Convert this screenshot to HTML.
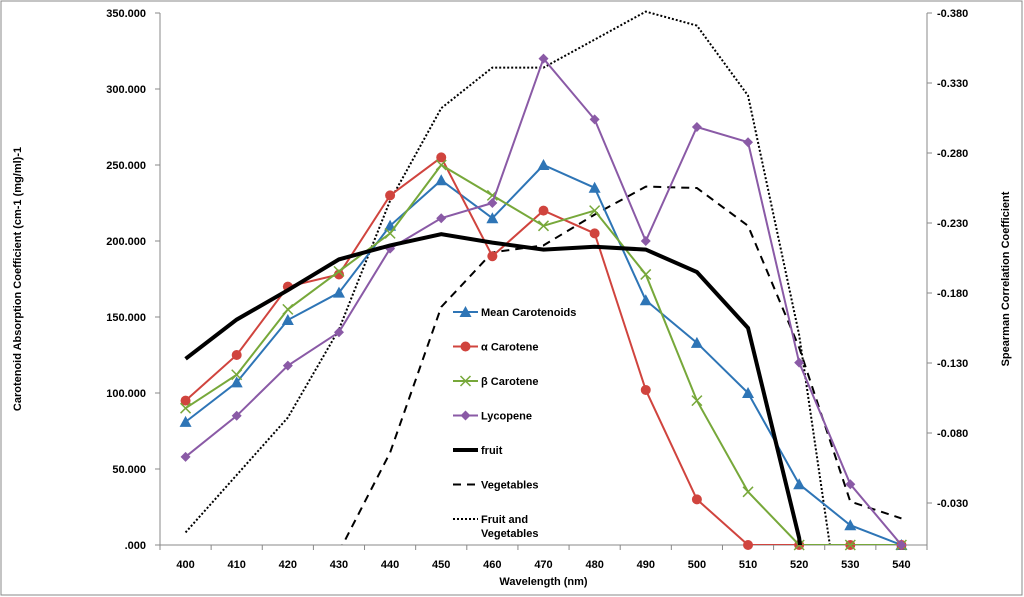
<!DOCTYPE html>
<html><head><meta charset="utf-8"><style>
html,body{margin:0;background:#fff;overflow:hidden;width:1024px;height:597px;}
svg{display:block;font-family:"Liberation Sans",sans-serif;}
</style></head><body>
<svg id="chart" width="1024" height="597">
<rect x="1" y="1" width="1021" height="594" fill="#fff" stroke="#888"/>
<g id="g"></g>
</svg>
<script>
const categories=[400,410,420,430,440,450,460,470,480,490,500,510,520,530,540];
const meanCarotenoids=[81,107,148,166,210,240,215,250,235,161,133,100,40,13,0];
const alphaCarotene=[95,125,170,178,230,255,190,220,205,102,30,0,0,0,0];
const betaCarotene=[90,112,155,180,205,250,230,210,220,178,95,35,0,0,0];
const lycopene=[58,85,118,140,195,215,225,320,280,200,275,265,120,40,0];
const fruit=[-0.133,-0.161,-0.182,-0.204,-0.214,-0.222,-0.216,-0.211,-0.213,-0.211,-0.195,-0.155,-0.005,0.3,null];
const vegetables=[null,null,null,0.005,-0.066,-0.17,-0.209,-0.214,-0.236,-0.256,-0.255,-0.228,-0.141,-0.031,-0.019];
const fruitVeg=[-0.009,-0.05,-0.091,-0.154,-0.246,-0.312,-0.341,-0.341,-0.361,-0.381,-0.371,-0.321,-0.15,0.1,null];
const leftTicks=[0,50,100,150,200,250,300,350];
const leftLabels=['.000','50.000','100.000','150.000','200.000','250.000','300.000','350.000'];
const rightTicks=[-0.38,-0.33,-0.28,-0.23,-0.18,-0.13,-0.08,-0.03];
const rightLabels=['-0.380','-0.330','-0.280','-0.230','-0.180','-0.130','-0.080','-0.030'];

const L=160,R=927,T=13,B=545,bw=(R-L)/categories.length;
const xs=i=>L+bw*(i+0.5);
const yl=v=>B-(v/350)*(B-T);
const yr=v=>B-(-v/0.38)*(B-T);
const g=document.getElementById('g');
const NS='http://www.w3.org/2000/svg';
function mk(t,a,p){const e=document.createElementNS(NS,t);for(const k in a)e.setAttribute(k,a[k]);(p||g).appendChild(e);return e;}

const defs=mk('defs',{});
const cp=mk('clipPath',{id:'clip'},defs);mk('rect',{x:L,y:T-5,width:R-L,height:B-T+5},cp);

let e=mk('line',{x1:L,y1:T,x2:L,y2:B,stroke:'#888'});


e=mk('line',{x1:R,y1:T,x2:R,y2:B,stroke:'#888'});


e=mk('line',{x1:L,y1:B,x2:R,y2:B,stroke:'#888'});


leftTicks.forEach((v,i)=>{
 mk('line',{x1:L-5,y1:yl(v),x2:L,y2:yl(v),stroke:'#888'});
 const t=mk('text',{x:L-14,y:yl(v)+4,'text-anchor':'end','font-size':11,'font-weight':'bold'});t.textContent=leftLabels[i];
 
 
});
rightTicks.forEach((v,i)=>{
 mk('line',{x1:R,y1:yr(v),x2:R+5,y2:yr(v),stroke:'#888'});
 const t=mk('text',{x:R+10,y:yr(v)+4,'font-size':11,'font-weight':'bold'});t.textContent=rightLabels[i];
 
 
});
for(let i=0;i<=categories.length;i++)mk('line',{x1:L+bw*i,y1:B,x2:L+bw*i,y2:B+5,stroke:'#888'});
categories.forEach((c,i)=>{
 const t=mk('text',{x:xs(i),y:568,'text-anchor':'middle','font-size':11,'font-weight':'bold'});t.textContent=c;
 
 
});
e=mk('text',{x:(L+R)/2,y:585,'text-anchor':'middle','font-size':11,'font-weight':'bold'});e.textContent='Wavelength (nm)';


e=mk('text',{x:0,y:0,'text-anchor':'middle','font-size':11,'font-weight':'bold',transform:'translate(21,279) rotate(-90)'});e.textContent='Carotenoid Absorption Coefficient (cm-1 (mg/ml)-1';


e=mk('text',{x:0,y:0,'text-anchor':'middle','font-size':11,'font-weight':'bold',transform:'translate(1009,279) rotate(-90)'});e.textContent='Spearman Correlation Coefficient';



function line(data,yf,col,w,dash,name){
 let d='',pen=false;
 data.forEach((v,i)=>{if(v===null){pen=false;return;}d+=(pen?'L':'M')+xs(i)+','+yf(v);pen=true;});
 const p=mk('path',{d:d,fill:'none',stroke:col,'stroke-width':w,'stroke-dasharray':dash||'none','clip-path':'url(#clip)'});
 
 
}
function marker(type,x,y,col,parent){
 if(type==='tri')return mk('path',{d:`M${x},${y-6}L${x+6},${y+5}L${x-6},${y+5}Z`,fill:col},parent);
 if(type==='circ')return mk('circle',{cx:x,cy:y,r:5,fill:col},parent);
 if(type==='x')return mk('path',{d:`M${x-5},${y-5}L${x+5},${y+5}M${x-5},${y+5}L${x+5},${y-5}`,stroke:col,'stroke-width':1.5},parent);
 return mk('path',{d:`M${x},${y-5}L${x+5},${y}L${x},${y+5}L${x-5},${y}Z`,fill:col},parent);
}
line(fruitVeg,yr,'#000',2,'2,2','fruit-and-vegetables-line');
line(vegetables,yr,'#000',2,'8,6','vegetables-line');
const series=[[meanCarotenoids,'#2e75b6','tri','mean-carotenoids'],[alphaCarotene,'#d0443e','circ','alpha-carotene'],[betaCarotene,'#77a83a','x','beta-carotene'],[lycopene,'#8a5aa6','dia','lycopene']];
series.forEach(([d,c,m,n])=>{
 line(d,yl,c,2,null,n+'-line');
 d.forEach((v,i)=>{const el=marker(m,xs(i),yl(v),c);
  
  });
});
line(fruit,yr,'#000',4,null,'fruit-line');

const lg=[['Mean Carotenoids','#2e75b6','tri',2,null],['α Carotene','#d0443e','circ',2,null],['β Carotene','#77a83a','x',2,null],['Lycopene','#8a5aa6','dia',2,null],['fruit','#000',null,4,null],['Vegetables','#000',null,2,'8,6'],['Fruit and','#000',null,2,'2,2']];
lg.forEach(([t,c,m,w,dash],i)=>{
 const y=312+i*34.5;
 const grp=mk('g',{});
 
 
 mk('line',{x1:453,y1:y,x2:478,y2:y,stroke:c,'stroke-width':w,'stroke-dasharray':dash||'none'},grp);
 if(m)marker(m,465.5,y,c,grp);
 const tx=mk('text',{x:481,y:y+4,'font-size':11,'font-weight':'bold'},grp);tx.textContent=t;
});
e=mk('text',{x:481,y:537,'font-size':11,'font-weight':'bold'});e.textContent='Vegetables';


</script>
</body></html>
